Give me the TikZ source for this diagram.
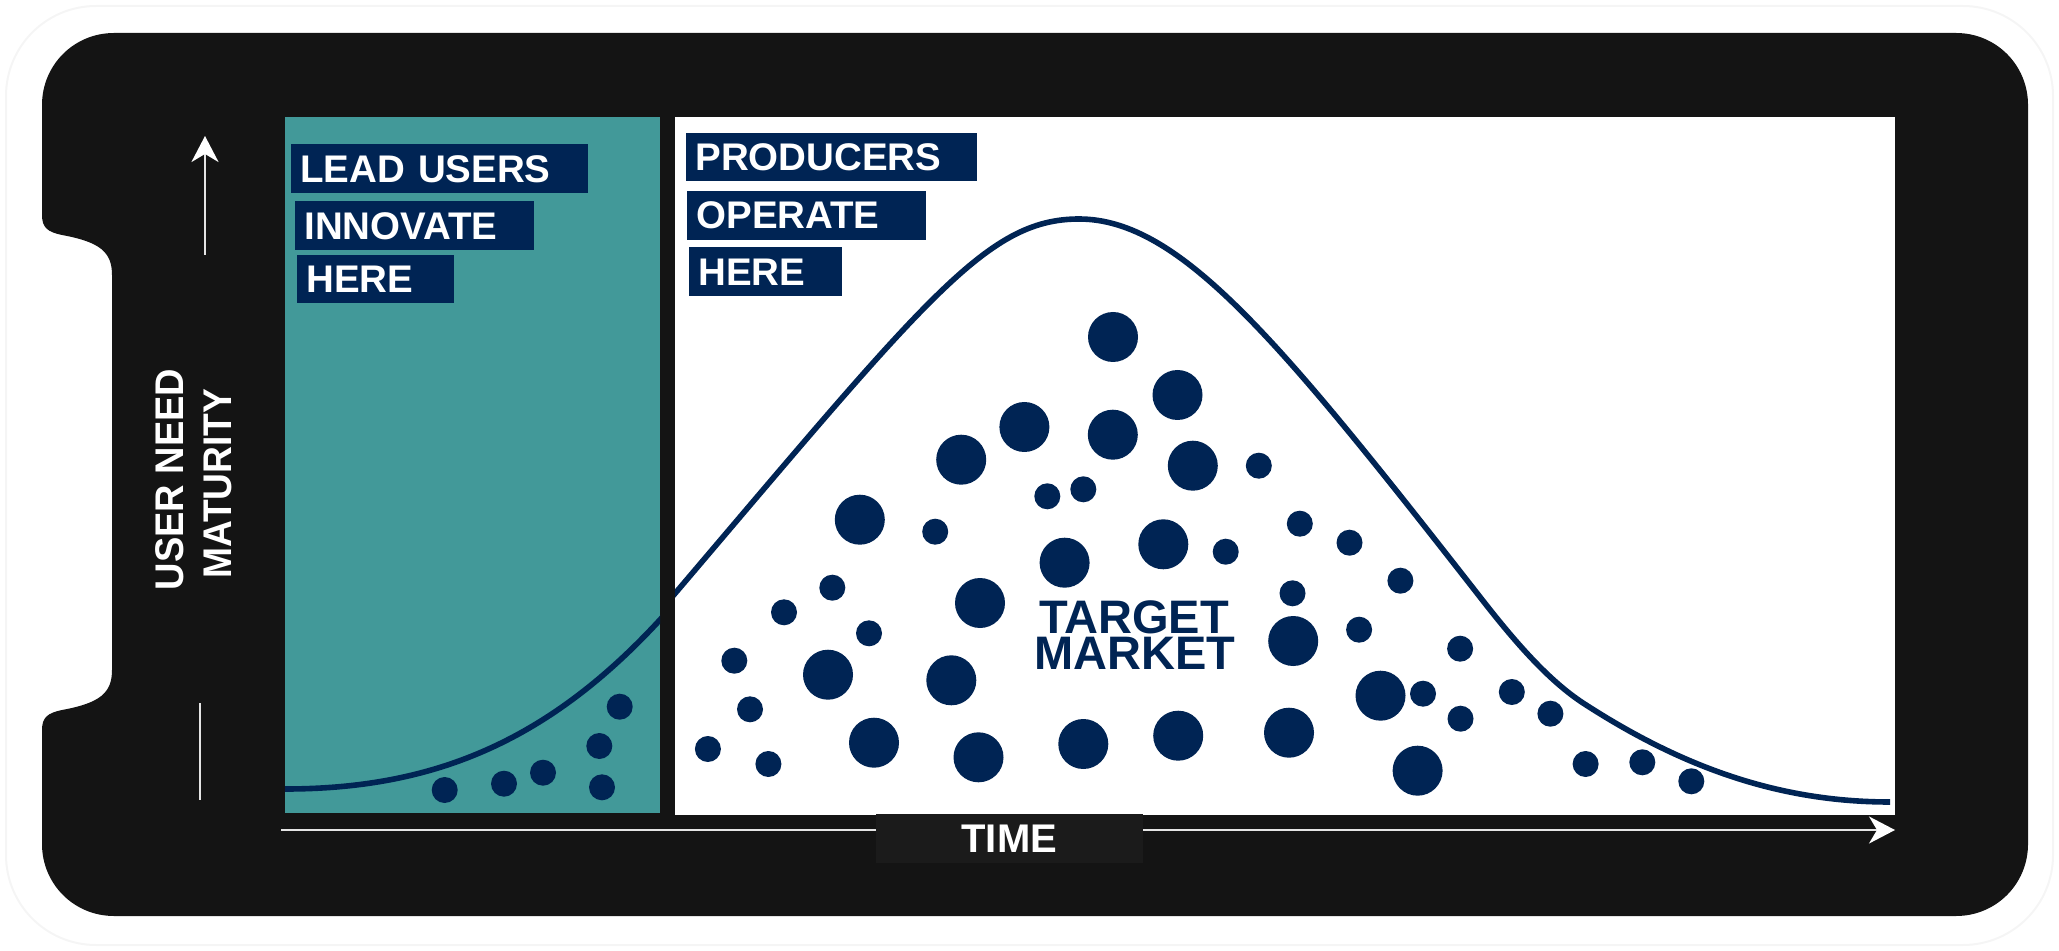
\documentclass[tikz,border=0pt]{standalone}
\usepackage{graphicx}
\usepackage{fontspec}
\setmainfont{Liberation Sans}
\usetikzlibrary{arrows.meta}

\definecolor{navy}{RGB}{0,36,84}
\definecolor{tealfill}{RGB}{66,153,153}
\definecolor{frameblack}{RGB}{20,20,20}
\definecolor{timebox}{RGB}{27,27,27}
\definecolor{axisline}{RGB}{228,228,228}

\begin{document}
\begin{tikzpicture}[x=0.5pt,y=-0.5pt,
  tag/.style={fill=navy,text=white,font=\fontsize{19.25}{20}\selectfont\bfseries,
    inner xsep=4.5pt,inner ysep=0pt,anchor=north west,align=left},
  axisarrow/.style={draw=axisline,line width=1.1pt,
    -{Stealth[length=13pt,width=13.5pt,inset=4pt,color=white]}},
  axislabel/.style={text=white,font=\fontsize{20}{20}\selectfont\bfseries,inner sep=0pt},
  bigdot/.style={fill=navy},
  curveline/.style={draw=navy,line width=2.8pt},
  marketlabel/.style={text=navy,font=\fontsize{23.5}{23.5}\selectfont\bfseries,
    inner sep=0pt,anchor=base},
]
\useasboundingbox (0,0) rectangle (2059,951);

% faint outline round the whole card
\draw[black!4,line width=1pt,rounded corners=45pt] (6,6) rectangle (2053,945);

% black frame with the notch on its left side
\fill[frameblack]
  (114,33) -- (1956,33) .. controls (1996,33) and (2028,65) .. (2028,105)
  -- (2028,844) .. controls (2028,884) and (1996,916) .. (1956,916)
  -- (114,916) .. controls (74,916) and (42,884) .. (42,844)
  -- (42,730) .. controls (42,717) and (48,713) .. (62,710)
  .. controls (100,703) and (112,693) .. (112,670)
  -- (112,275) .. controls (112,252) and (100,242) .. (62,235)
  .. controls (48,232) and (42,228) .. (42,215)
  -- (42,105) .. controls (42,65) and (74,33) .. (114,33) -- cycle;

% plot panels
\fill[tealfill] (285,117) rectangle (660,813);
\fill[white] (675,117) rectangle (1895,815);

% adoption curve, teal part
\begin{scope}
  \clip (285,117) rectangle (660,813);
  \draw[curveline] (285,789) .. controls (435,789) and (555,741) .. (675,603);
\end{scope}
% adoption curve, white part
\begin{scope}
  \clip (675,117) rectangle (1895,815);
  \draw[curveline] (655,617) .. controls (925,300) and (985,219) .. (1079,219)
    .. controls (1180,219) and (1280,341) .. (1480,597)
    .. controls (1515,642) and (1548,680) .. (1583,703)
    .. controls (1683,768) and (1780,802) .. (1890,802);
\end{scope}

% lead-user dots
\foreach \x/\y in {444.7/790, 504/783.7, 543/772.7, 619.7/706.7, 599.3/746, 602/787.3}
  \fill[bigdot] (\x,\y) circle[radius=6.5pt];

% market dots, large
\foreach \x/\y in {1113/337, 1177.5/395, 1024.4/427, 1112.8/434.7, 961.2/459.7,
  1192.8/465.7, 859.8/519.7, 1163.3/544.3, 1064.6/562.7, 980/603, 828/674.7,
  951.3/680.3, 874/742.7, 978.5/757.3, 1083.3/744, 1178.2/735.7, 1293.2/641,
  1380.5/695.7, 1289/732.7, 1417.6/770.7}
  \fill[bigdot] (\x,\y) circle[radius=12.5pt];

% market dots, small
\foreach \x/\y in {1258.8/465.7, 1047.3/496.3, 1083.3/489.3, 935.2/531.7,
  1225.7/551.7, 832.3/587.7, 784/612.3, 869/633.3, 734.3/660.7, 750/709.3,
  707.9/749, 768.4/764, 1299.8/523.7, 1349.5/542.7, 1400.4/580.7, 1292.5/593.3,
  1359.1/629.7, 1460.1/648.7, 1423/693.7, 1460.5/718.7, 1511.8/692,
  1550.4/713.7, 1585.6/764, 1642.3/762.3, 1691.3/781.3}
  \fill[bigdot] (\x,\y) circle[radius=6.5pt];

% centre label
\node[marketlabel] (target) at (1134,633.3) {TARGET};
\node[marketlabel] (market) at (1135,669.3) {MARKET};

% caption tags
\node[tag,minimum height=24.5pt,text width=139.5pt] (lead) at (291,144) {LEAD USERS};
\node[tag,minimum height=24.5pt,text width=110.5pt] (innovate) at (295,201) {INNOVATE};
\node[tag,minimum height=24pt,text width=69.5pt] (hereA) at (297,255) {HERE};
\node[tag,minimum height=24.2pt,text width=136.3pt] (producers) at (686,132.3) {PRODUCERS};
\node[tag,minimum height=24.2pt,text width=110.3pt] (operate) at (687,191) {OPERATE};
\node[tag,minimum height=24.4pt,text width=67.3pt] (hereB) at (689,247) {HERE};

% time axis
\coordinate (t0) at (281,830);
\coordinate (t1) at (1895,830);
\draw[axisarrow] (t0) -- (t1);
\node[axislabel,fill=timebox,minimum width=133.3pt,minimum height=24.3pt]
  (time) at (1009.3,838.4) {TIME};

% vertical axis marks
\coordinate (u0) at (205,255);
\coordinate (u1) at (205,136);
\draw[axisarrow] (u0) -- (u1);
\coordinate (v0) at (200,703);
\coordinate (v1) at (200,800);
\draw[draw=axisline,line width=1.1pt] (v0) -- (v1);

\node[axislabel,rotate=90,anchor=base] (userneed) at (183.3,479.5)
  {\scalebox{0.95}[1]{USER NEED}};
\node[axislabel,rotate=90,anchor=base] (maturity) at (231.7,483.3)
  {\scalebox{0.93}[1]{MATURITY}};
\end{tikzpicture}
\end{document}
